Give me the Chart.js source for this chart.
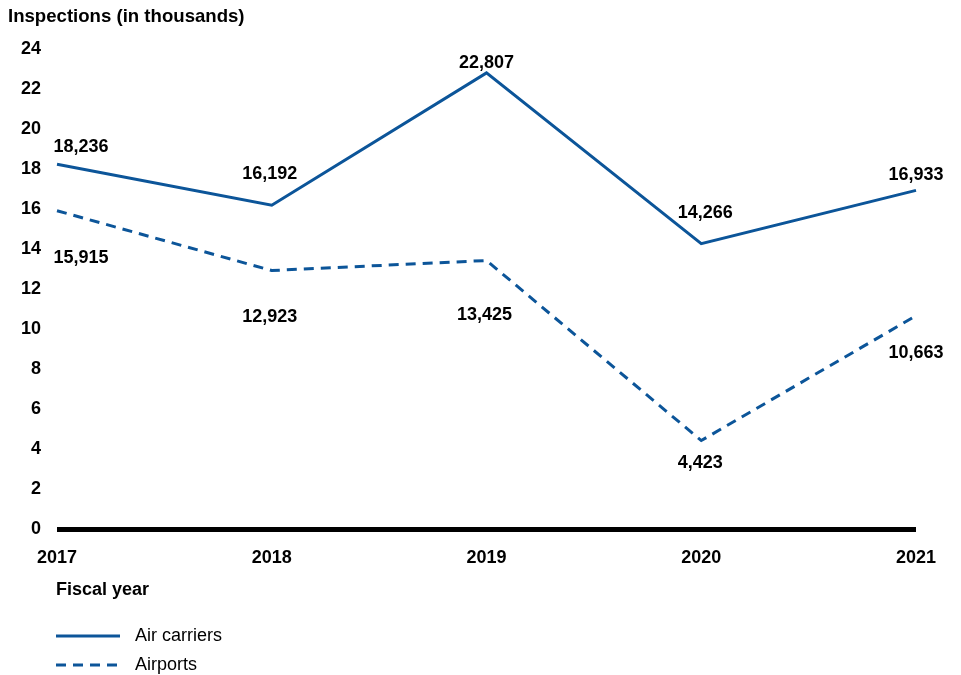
<!DOCTYPE html>
<html>
<head>
<meta charset="utf-8">
<title>Inspections</title>
<script src="https://cdn.jsdelivr.net/npm/chart.js@4/dist/chart.umd.min.js"></script>
<style>
  html, body { margin: 0; padding: 0; background: #fff; }
  #wrap { width: 961px; height: 675px; position: relative; }
</style>
</head>
<body>
<div id="wrap"><canvas id="graphiqueInspections"></canvas></div>
<script>
// annees fiscales et inspections (en milliers)
var annees = ['2017', '2018', '2019', '2020', '2021'];
var airCarriers = [18.236, 16.192, 22.807, 14.266, 16.933];
var airports = [15.915, 12.923, 13.425, 4.423, 10.663];
var yTicks = [0, 2, 4, 6, 8, 10, 12, 14, 16, 18, 20, 22, 24];

var bleu = '#0c5599';
var police = '"Liberation Sans", Arial, sans-serif';

// decalage des etiquettes (px) par rapport au point
var decalCarriers = [[24, -17], [-2, -31], [0, -10], [4, -31], [0, -15]];
var decalAirports = [[24, 47], [-2, 46], [-2, 55], [-1, 22], [0, 37]];

function formatMilliers(v) {
  return Math.round(v * 1000).toLocaleString('en-US');
}

// etiquettes de valeurs, titre, legende
var decorPlugin = {
  id: 'decor',
  afterDatasetsDraw: function(chart) {
    var ctx = chart.ctx;
    var x = chart.scales.x;
    var y = chart.scales.y;
    ctx.save();
    ctx.fillStyle = '#000';
    ctx.font = 'bold 18px ' + police;
    ctx.textAlign = 'center';
    ctx.textBaseline = 'middle';
    for (var i = 0; i < annees.length; i++) {
      var px = x.getPixelForValue(i);
      ctx.fillText(formatMilliers(airCarriers[i]), px + decalCarriers[i][0], y.getPixelForValue(airCarriers[i]) + decalCarriers[i][1]);
      ctx.fillText(formatMilliers(airports[i]), px + decalAirports[i][0], y.getPixelForValue(airports[i]) + decalAirports[i][1]);
    }

    ctx.textAlign = 'left';
    ctx.fillText('Fiscal year', 56, 590);
    ctx.font = 'bold 18.6px ' + police;
    ctx.fillText('Inspections (in thousands)', 8, 17);

    // legende
    var items = [
      { label: 'Air carriers', dash: [], y: 636 },
      { label: 'Airports', dash: [10, 7], y: 665 }
    ];
    ctx.font = '18px ' + police;
    items.forEach(function(it) {
      ctx.strokeStyle = bleu;
      ctx.lineWidth = 3;
      ctx.setLineDash(it.dash);
      ctx.beginPath();
      ctx.moveTo(56, it.y);
      ctx.lineTo(120, it.y);
      ctx.stroke();
      ctx.setLineDash([]);
      ctx.fillText(it.label, 135, it.y);
    });
    ctx.restore();
  }
};

var data = {
  labels: annees,
  datasets: [{
    label: 'Air carriers',
    data: airCarriers,
    borderColor: bleu,
    borderWidth: 3,
    pointRadius: 0,
    tension: 0,
    fill: false
  }, {
    label: 'Airports',
    data: airports,
    borderColor: bleu,
    borderWidth: 3,
    borderDash: [10, 7],
    pointRadius: 0,
    tension: 0,
    fill: false
  }]
};

var options = {
  responsive: true,
  maintainAspectRatio: false,
  animation: false,
  layout: { padding: { left: 0, right: 45, top: 49, bottom: 0 } },
  plugins: {
    legend: { display: false },
    tooltip: { enabled: false }
  },
  scales: {
    x: {
      grid: { display: false, drawTicks: false },
      border: { display: false },
      ticks: {
        color: '#000',
        font: { family: police, size: 18, weight: 'bold' },
        padding: 18,
        maxRotation: 0
      },
      afterFit: function(scale) { scale.height = 146; }
    },
    y: {
      min: 0,
      max: 24,
      afterBuildTicks: function(scale) {
        scale.ticks = yTicks.map(function(v) { return { value: v }; });
      },
      grid: {
        drawTicks: false,
        color: function(c) { return c.tick && c.tick.value === 0 ? '#000' : 'rgba(0,0,0,0)'; },
        lineWidth: function(c) { return c.tick && c.tick.value === 0 ? 5 : 0; }
      },
      border: { display: false },
      ticks: {
        color: '#000',
        font: { family: police, size: 18, weight: 'bold' },
        padding: 16
      },
      afterFit: function(scale) { scale.width = 57; }
    }
  }
};

var ctx = document.getElementById('graphiqueInspections').getContext('2d');
var monGraphique = new Chart(ctx, {
  type: 'line',
  data: data,
  options: options,
  plugins: [decorPlugin]
});
</script>
</body>
</html>
